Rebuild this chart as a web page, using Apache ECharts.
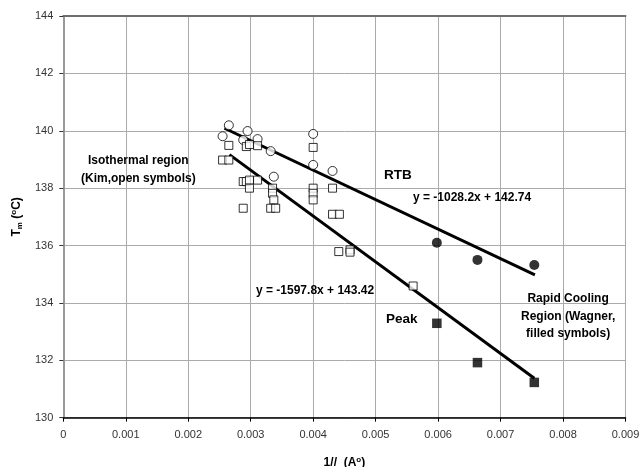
<!DOCTYPE html>
<html>
<head>
<meta charset="utf-8">
<script src="https://cdn.jsdelivr.net/npm/echarts@6/dist/echarts.min.js"></script>
<style>html,body{margin:0;padding:0;background:#fff}#c{width:643px;height:467px}</style>
</head>
<body>
<div id="c"></div>
<script>
// ---- data ----
var xTicks = [0, 0.001, 0.002, 0.003, 0.004, 0.005, 0.006, 0.007, 0.008, 0.009];
var yTicks = [130, 132, 134, 136, 138, 140, 142, 144];

var openCircleX = [0.00265, 0.00255, 0.00295, 0.00288, 0.00311, 0.00332, 0.00400, 0.00400, 0.00431, 0.00337];
var openCircleY = [140.19, 139.81, 139.99, 139.68, 139.71, 139.29, 139.89, 138.81, 138.60, 138.40];

var openSquareX = [0.00265, 0.00255, 0.00265, 0.00293, 0.00298, 0.00311, 0.00288, 0.00293, 0.00298, 0.00298, 0.00311, 0.00288,
                   0.00335, 0.00335, 0.00337, 0.00332, 0.00340, 0.00400, 0.00400, 0.00400, 0.00400, 0.00431, 0.00431, 0.00442,
                   0.00441, 0.00459, 0.00459, 0.00560];
var openSquareY = [139.49, 138.98, 138.98, 139.45, 139.52, 139.48, 138.23, 138.23, 138.28, 138.00, 138.28, 137.30,
                   138.00, 137.82, 137.59, 137.30, 137.30, 139.42, 138.00, 137.82, 137.59, 138.00, 137.09, 137.09,
                   135.79, 135.85, 135.77, 134.59];

var filledCircleX = [0.00598, 0.00663, 0.00754];
var filledCircleY = [136.10, 135.50, 135.32];

var filledSquareX = [0.00598, 0.00663, 0.00754];
var filledSquareY = [133.29, 131.92, 131.23];

// linear fits: [slope, intercept], drawn over x range
var rtbFit = [-1028.2, 142.74];
var rtbRange = [0.00258, 0.00755];
var peakFit = [-1597.8, 143.42];
var peakRange = [0.00266, 0.00754];

function zip(xs, ys) { return xs.map(function (x, i) { return [x, ys[i]]; }); }
function fitLine(fit, range) { return range.map(function (x) { return [x, fit[0] * x + fit[1]]; }); }

var chart = echarts.init(document.getElementById('c'), null, {renderer: 'canvas'});
var FONT = 'Liberation Sans, Arial, sans-serif';
var boldText = {fontFamily: FONT, fontWeight: 'bold', fontSize: 12, fill: '#000'};

chart.setOption({
  animation: false,
  backgroundColor: '#fff',
  grid: {left: 63.3, right: 17.5, top: 16, bottom: 49.3, containLabel: false, outerBoundsMode: 'none'},
  xAxis: [{
    type: 'value', min: xTicks[0], max: xTicks[xTicks.length - 1], interval: 0.001,
    position: 'bottom',
    axisLine: {show: true, lineStyle: {color: '#000', width: 1.5}},
    axisTick: {show: true, length: 4, lineStyle: {color: '#000'}},
    axisLabel: {margin: 12, color: '#333', fontFamily: FONT, fontSize: 11,
      formatter: function (v) { return v === 0 ? '0' : v.toFixed(3); }},
    splitLine: {show: true, lineStyle: {color: '#aaa', width: 1}},
    name: '1//  (A{sup|o})', nameLocation: 'middle', nameGap: 38,
    nameTextStyle: {fontFamily: FONT, fontWeight: 'bold', fontSize: 12, color: '#000',
      rich: {sup: {fontSize: 8, fontWeight: 'bold', verticalAlign: 'top', padding: [0, 0, 6, 0]}}}
  }, {
    type: 'value', min: xTicks[0], max: xTicks[xTicks.length - 1], interval: 0.001,
    position: 'top',
    axisLine: {show: true, lineStyle: {color: '#6e6e6e', width: 2}},
    axisTick: {show: false}, axisLabel: {show: false}, splitLine: {show: false}
  }],
  yAxis: [{
    type: 'value', min: yTicks[0], max: yTicks[yTicks.length - 1], interval: 2,
    position: 'left',
    axisLine: {show: true, lineStyle: {color: '#888', width: 1}},
    axisTick: {show: true, length: 4, lineStyle: {color: '#333'}},
    axisLabel: {margin: 10, color: '#333', fontFamily: FONT, fontSize: 11},
    splitLine: {show: true, lineStyle: {color: '#aaa', width: 1}},
    name: 'T{sub|m} ({sup|o}C)', nameLocation: 'middle', nameGap: 40, nameRotate: 90,
    nameTextStyle: {fontFamily: FONT, fontWeight: 'bold', fontSize: 12, color: '#000',
      rich: {sub: {fontSize: 8, fontWeight: 'bold', verticalAlign: 'bottom', padding: [6, 0, 0, 0]},
             sup: {fontSize: 8, fontWeight: 'bold', verticalAlign: 'top', padding: [0, 0, 6, 0]}}}
  }, {
    type: 'value', min: yTicks[0], max: yTicks[yTicks.length - 1], interval: 2,
    position: 'right',
    axisLine: {show: true, lineStyle: {color: '#999', width: 2}},
    axisTick: {show: false}, axisLabel: {show: false}, splitLine: {show: false}
  }],
  series: [
    {type: 'line', data: fitLine(rtbFit, rtbRange), showSymbol: false, silent: true, z: 3,
     lineStyle: {color: '#000', width: 3}},
    {type: 'line', data: fitLine(peakFit, peakRange), showSymbol: false, silent: true, z: 3,
     lineStyle: {color: '#000', width: 3}},
    {type: 'scatter', data: zip(openCircleX, openCircleY), symbol: 'circle', symbolSize: 9, z: 4,
     itemStyle: {color: '#fff', borderColor: '#000', borderWidth: 1}},
    {type: 'scatter', data: zip(openSquareX, openSquareY), symbol: 'rect', symbolSize: 8, z: 4,
     itemStyle: {color: '#fff', borderColor: '#000', borderWidth: 1}},
    {type: 'scatter', data: zip(filledCircleX, filledCircleY), symbol: 'circle', symbolSize: 10, z: 4,
     itemStyle: {color: '#000'}},
    {type: 'scatter', data: zip(filledSquareX, filledSquareY), symbol: 'rect', symbolSize: 9.5, z: 4,
     itemStyle: {color: '#000'}}
  ],
  graphic: [
    {type: 'text', left: 81, top: 152, z: 10, style: Object.assign({}, boldText,
      {text: 'Isothermal region\n(Kim,open symbols)', textAlign: 'center', lineHeight: 17.5, width: 110})},
    {type: 'text', left: 384, top: 168, z: 10, style: Object.assign({}, boldText, {text: 'RTB', fontSize: 13.5})},
    {type: 'text', left: 413, top: 192, z: 10, style: Object.assign({}, boldText, {text: 'y = -1028.2x + 142.74'})},
    {type: 'text', left: 256, top: 285, z: 10, style: Object.assign({}, boldText, {text: 'y = -1597.8x + 143.42'})},
    {type: 'text', left: 386, top: 312, z: 10, style: Object.assign({}, boldText, {text: 'Peak', fontSize: 13.5})},
    {type: 'text', left: 521, top: 290, z: 10, style: Object.assign({}, boldText,
      {text: 'Rapid Cooling\nRegion (Wagner,\nfilled symbols)', textAlign: 'center', lineHeight: 17.5})}
  ]
});
</script>
</body>
</html>
